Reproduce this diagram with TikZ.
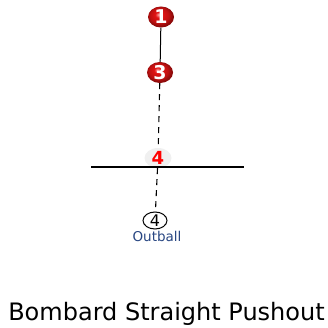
\documentclass[tikz,border=0pt]{standalone}
\usepackage{fontspec}
\setmainfont{DejaVu Sans}
\usetikzlibrary{shapes,arrows,positioning,calc}

\definecolor{navytext}{RGB}{40,70,130}
\definecolor{ballred}{RGB}{225,20,20}
\definecolor{rimred}{RGB}{140,10,10}
\pgfdeclareradialshading{redshine}{\pgfpoint{-5bp}{6bp}}{%
  color(0bp)=(red!35!white); color(7bp)=(ballred); color(18bp)=(ballred!85!black);
  color(25bp)=(rimred); color(50bp)=(rimred)}
\tikzset{
  redball/.style={ellipse, inner sep=0pt, minimum width=26pt, minimum height=21pt, shading=redshine, text=white, font=\bfseries\fontsize{19}{19}\selectfont},
  greyball/.style={ellipse, inner sep=0pt, minimum width=27pt, minimum height=20pt, fill=gray!12, text=red, font=\bfseries\fontsize{18}{18}\selectfont},
  outball/.style={ellipse, draw, line width=1pt, fill=white, inner sep=0pt, minimum width=24pt, minimum height=17pt, font=\fontsize{16}{16}\selectfont},
  dashline/.style={line width=1.1pt, dash pattern=on 6pt off 5pt}
}

\begin{document}
\begin{tikzpicture}[x=1pt, y=1pt]
\useasboundingbox (0,0) rectangle (328,327);
% 球
\node[redball] (b1) at (161,310) {1};
\node[redball] (b3) at (160,254.5) {3};
\node[greyball] (b4) at (158,169) {4};
\node[outball] (ob) at (155,106.5) {4};
\node[font=\fontsize{13.5}{13.5}\selectfont, text=navytext] (oblabel) at (157,91) {Outball};

% 线
\draw[line width=1pt] (b1) -- (b3);
\draw[dashline] (b3) -- (b4);
\draw[dashline] (b4) -- (ob);
\coordinate (lineL) at (91,160);
\coordinate (lineR) at (244,160);
\draw[line width=1.2pt] (lineL) -- (lineR);

% 标题
\node[font=\fontsize{24}{24}\selectfont, anchor=base] (title) at (166.5,7) {Bombard Straight Pushout};
\end{tikzpicture}
\end{document}
